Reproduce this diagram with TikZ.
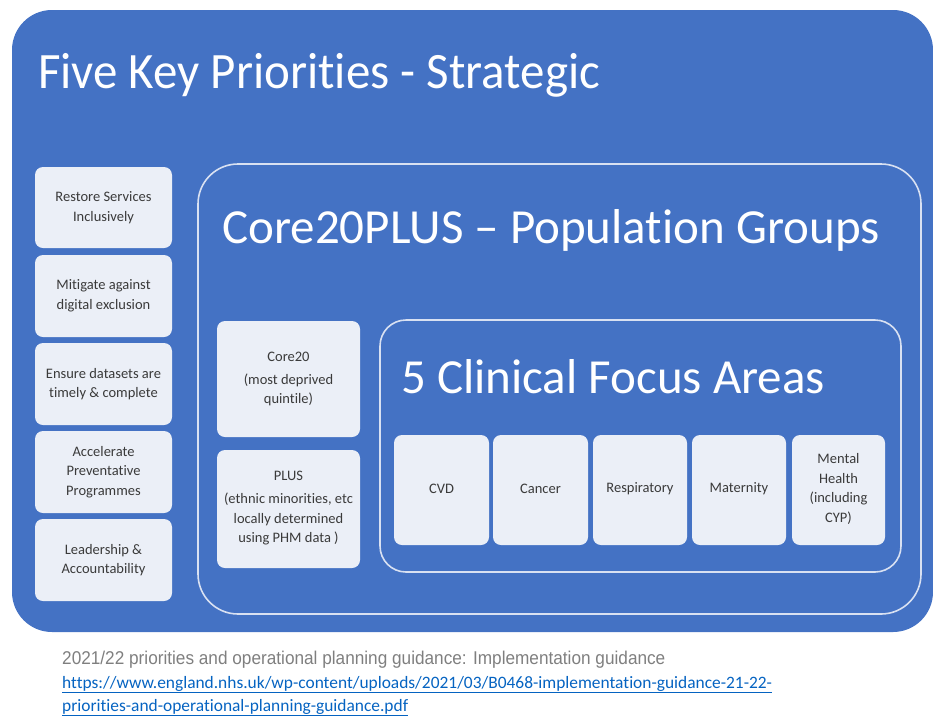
\documentclass[tikz,border=0pt]{standalone}
\usepackage{fontspec}
\setmainfont{Carlito}[Ligatures=NoCommon]
\newfontfamily\titlefont{Carlito}[Ligatures=NoCommon, FakeStretch=0.96]
\newfontfamily\footfont{Liberation Sans}[FakeStretch=0.93]
\definecolor{nhsblue}{HTML}{4472C4}
\definecolor{boxfill}{HTML}{EBEFF7}
\definecolor{boxtext}{HTML}{3A3A3A}
\definecolor{framecol}{HTML}{D9E1F2}
\definecolor{footgray}{HTML}{7F7F7F}
\definecolor{linkblue}{HTML}{0563C1}
\tikzset{
  outerbox/.style={fill=nhsblue, draw=none, rounded corners=40pt},
  framebox/.style={draw=framecol, line width=1.6pt, fill=none},
  smallbox/.style={fill=boxfill, draw=none, rounded corners=8pt},
  boxlabel/.style={text=boxtext, font=\fontsize{14.5}{19.5}\selectfont, align=center, inner sep=0pt},
  bigtitle/.style={text=white, anchor=base west, inner sep=0pt},
  linktext/.style={anchor=base west, inner sep=0pt, text=linkblue, font=\fontsize{17.4}{20}\selectfont},
}
\begin{document}
\begin{tikzpicture}[x=1pt,y=-1pt]
\useasboundingbox (0,0) rectangle (933,715);
% outer
\path[outerbox] (12,10) rectangle (933,632);
\node[bigtitle, font=\titlefont\fontsize{51}{55}\selectfont] (t1) at (38,88) {Five Key Priorities - Strategic};
% left boxes
\foreach \i/\ya/\yb/\txt in {1/167/248/{Restore Services\\Inclusively},
  2/255/337/{Mitigate against\\digital exclusion},
  3/343/425/{Ensure datasets are\\timely \& complete},
  4/431/513/{Accelerate\\Preventative\\Programmes},
  5/519/601/{Leadership \&\\Accountability}}{
  \path[smallbox] (35,\ya) rectangle (172,\yb);
  \node[boxlabel] (L\i) at (103.5,{(\ya+\yb)/2}) {\txt};
}
% Core20PLUS frame
\draw[framebox, rounded corners=40pt] (198,164) rectangle (921,614);
\node[bigtitle, font=\fontsize{49}{52}\selectfont] (t2) at (222,243) {Core20PLUS – Population Groups};
\path[smallbox] (217,321) rectangle (360,437);
\node[boxlabel] (core) at (288.5,379) {Core20\\[3pt](most deprived\\quintile)};
\path[smallbox] (217,450) rectangle (360,568);
\node[boxlabel] (plus) at (288.5,508) {PLUS\\[4pt](ethnic minorities, etc\\locally determined\\using PHM data )};
% Clinical frame
\draw[framebox, rounded corners=26pt] (380,320) rectangle (901,572);
\node[bigtitle, font=\fontsize{49}{52}\selectfont] (t3) at (401,393) {5 Clinical Focus Areas};
\foreach \i/\xa/\xb/\txt in {1/394/489/{CVD}, 2/493/588/{Cancer}, 3/593/687/{Respiratory},
  4/692/786/{Maternity}, 5/792/885/{Mental\\Health\\(including\\CYP)}}{
  \path[smallbox] (\xa,435) rectangle (\xb,545);
  \node[boxlabel] (C\i) at ({(\xa+\xb)/2},489) {\txt};
}
% footer
\node[anchor=base west, inner sep=0pt, text=footgray, font=\footfont\fontsize{18.5}{20}\selectfont] (f1) at (62,664) {2021/22 priorities and operational planning guidance: Implementation guidance};
\node[linktext] (f2) at (62,688) {\underline{https://www.england.nhs.uk/wp-content/uploads/2021/03/B0468-implementation-guidance-21-22-}};
\node[linktext] (f3) at (62,711) {\underline{priorities-and-operational-planning-guidance.pdf}};
\end{tikzpicture}
\end{document}
